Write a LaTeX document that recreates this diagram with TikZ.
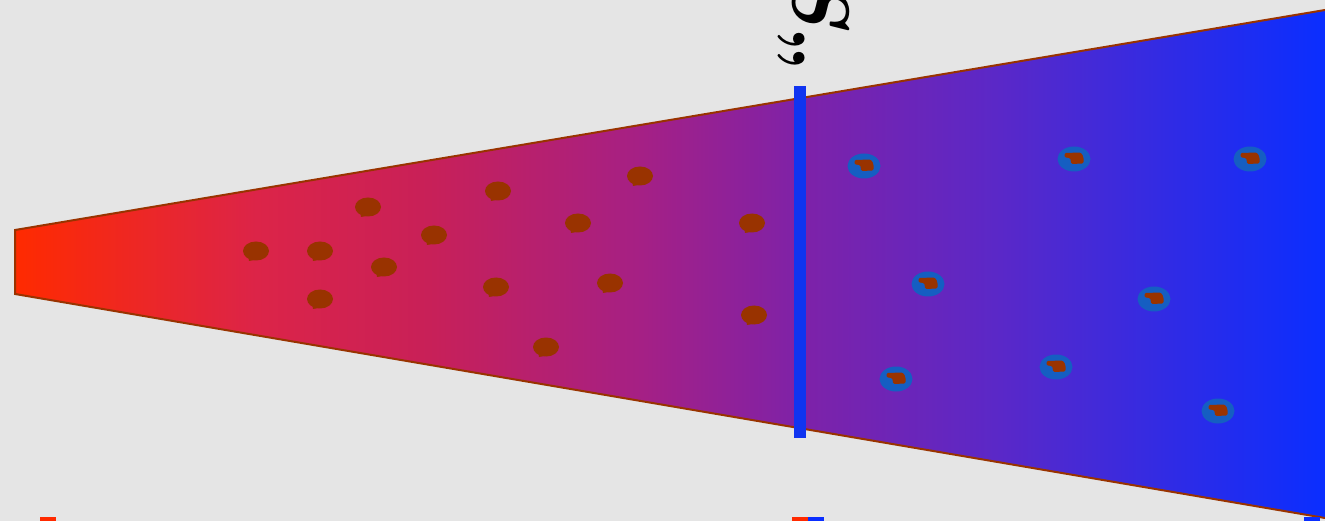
\documentclass[tikz,border=0pt]{standalone}
\usetikzlibrary{calc}
\definecolor{bg}{HTML}{E5E5E5}
\definecolor{redA}{HTML}{FF2A00}
\definecolor{blueA}{HTML}{0A2EFF}
\definecolor{edgeC}{HTML}{993300}
\definecolor{barC}{HTML}{1034F0}
\definecolor{ringC}{HTML}{155EC2}
\pgfdeclarehorizontalshading{coneshade}{100bp}{%
  color(0bp)=(redA); color(25bp)=(redA);
  color(34.2bp)=(rgb,255:red,220;green,36;blue,72);
  color(40.8bp)=(rgb,255:red,200;green,32;blue,88);
  color(48.9bp)=(rgb,255:red,165;green,32;blue,133);
  color(55bp)=(rgb,255:red,126;green,34;blue,168);
  color(62.6bp)=(rgb,255:red,90;green,40;blue,200);
  color(75bp)=(blueA); color(100bp)=(blueA)}
\tikzset{
  blob/.pic={
    \fill[edgeC] (0,0) ellipse (13 and 9.5);
    \fill[edgeC] (-8,4) -- (-7,10) -- (4,8) -- cycle;
  },
  ringblob/.pic={
    \fill[ringC] (0,0) ellipse (16.5 and 12.5);
    \fill[edgeC,rounded corners=1.5pt] (-9.5,-6) -- (7,-6.5) -- (9.5,-2) -- (9.5,4.5) -- (-3,5) -- (-3.5,-1) -- (-9.5,-1.5) -- cycle;
  },
}
\begin{document}
\begin{tikzpicture}[x=1pt,y=-1pt]
\useasboundingbox (0,0) rectangle (1325,521);
\fill[bg] (0,0) rectangle (1325,521);
% cone
\path[shading=coneshade] (15,230) -- (1325,10) -- (1325,518) -- (15,294) -- cycle;
\draw[edgeC,line width=2pt,line join=miter] (1325,10) -- (15,230) -- (15,294) -- (1325,518);
% red blobs
\foreach \p in {(256,251),(320,251),(320,299),(368,207),(384,267),(434,235),(498,191),(496,287),(578,223),(610,283),(640,176),(546,347),(752,223),(754,315)}
  \pic at \p {blob};
% ringed blobs
\foreach \p in {(864,166),(1074,159),(1250,159),(928,284),(1154,299),(896,379),(1056,367),(1218,411)}
  \pic at \p {ringblob};
% separating bar
\fill[barC] (794,86) rectangle (806,438);
% label
\node[rotate=-90,anchor=base west,inner sep=0pt,font=\fontsize{80}{80}\selectfont\bfseries] (lbl) at (793,-26) {\itshape S\upshape„};
% bottom markers
\fill[redA] (40,517) rectangle (56,521);
\fill[redA] (792,517) rectangle (808,521);
\fill[blueA] (808,517) rectangle (824,521);
\fill[blueA] (1304,517) rectangle (1320,521);
\end{tikzpicture}
\end{document}
